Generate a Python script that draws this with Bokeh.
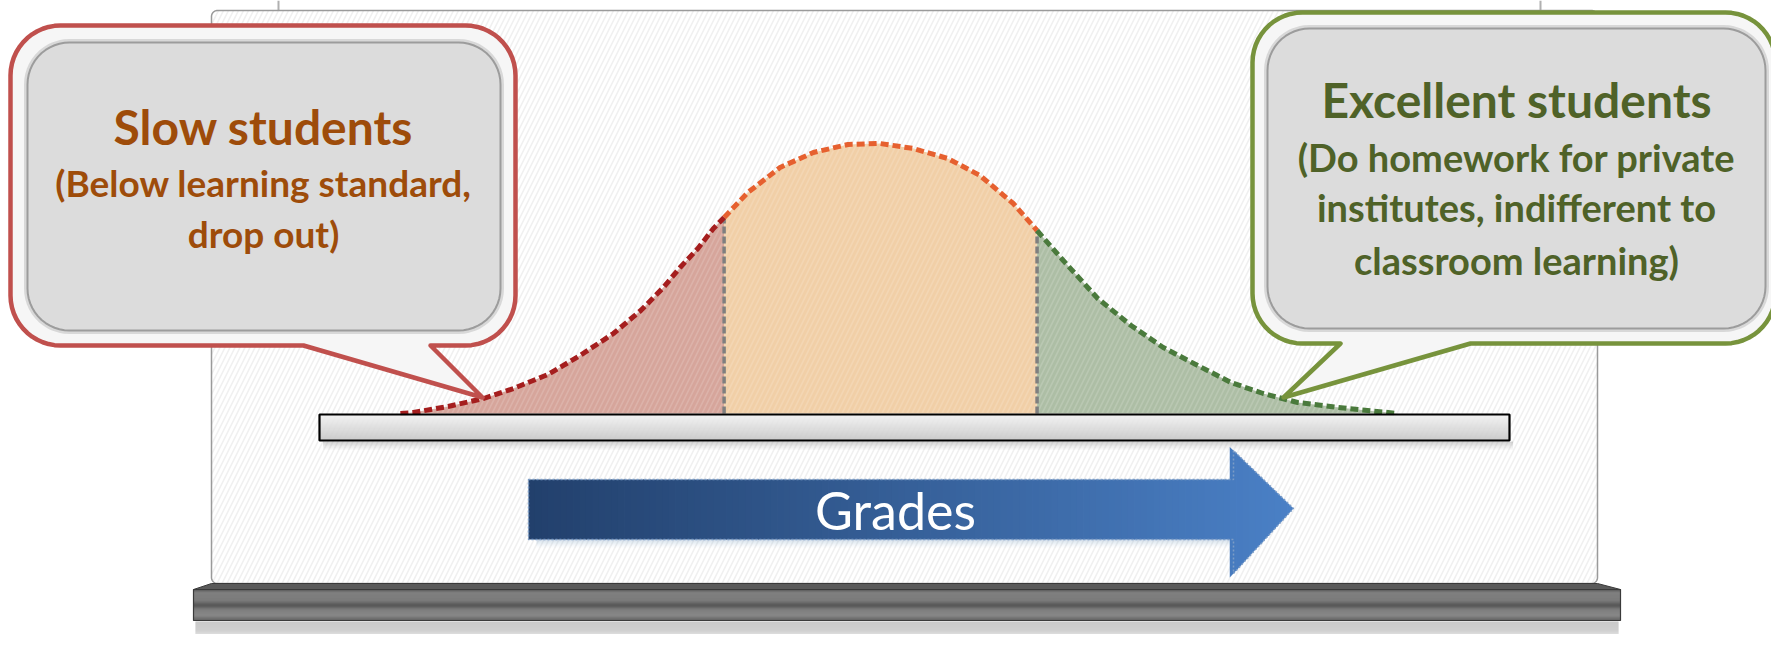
import numpy as np
from bokeh.plotting import figure
from bokeh.models import Range1d
from bokeh.core.properties import value
from bokeh.embed import file_html
from bokeh.resources import INLINE

# ---------------- data ----------------
grades = [6.8, 7.9, 10.8, 13.8, 16.3, 19.2, 21.9, 24.7, 27.0, 28.9, 30.3, 31.8,
          33.1, 34.0, 36.0, 38.7, 41.5, 44.4, 47.1, 49.9, 52.8, 55.5, 58.3, 60.3,
          62.5, 65.4, 68.2, 70.9, 73.8, 76.6, 79.3, 82.2, 86.4, 90.6]
students = [0.0, 0.1, 0.7, 1.5, 2.5, 3.9, 5.8, 8.0, 10.3, 12.6, 14.6, 16.5,
            18.5, 19.6, 22.1, 24.6, 26.1, 26.9, 27.0, 26.5, 25.5, 23.8, 21.0, 18.3,
            15.3, 11.5, 8.8, 6.6, 4.8, 3.1, 2.0, 1.1, 0.5, 0.0]
cutoffs = [34.0, 60.3]
groups = ["slow", "average", "excellent"]
slow_lines = ["Slow students", "(Below learning standard,", "drop out)"]
excellent_lines = ["Excellent students", "(Do homework for private",
                   "institutes, indifferent to", "classroom learning)"]
axis_label = "Grades"

# ---------------- styles ----------------
FILL = {"slow": "#d4a096", "average": "#f0cca2", "excellent": "#a9bba0"}
LINE = {"slow": "#a51e1e", "average": "#e6602f", "excellent": "#4a7a3c"}
FONT = value("Lato")
BASELINE_SHIFT = 0.4   # text is drawn a little low in the svg backend

W, H = 1771, 634
p = figure(width=W, height=H, x_range=Range1d(0, W), y_range=Range1d(H, 0),
           output_backend="svg", toolbar_location=None, min_border=0,
           x_axis_location=None, y_axis_location=None)
p.grid.visible = False
p.outline_line_color = None
p.background_fill_color = "white"
p.border_fill_color = "white"

# grade / student count scales for the distribution
PX0, PXS = 319.0, 11.9     # grade 0 at x=319, 11.9 px per grade point
BASE, PYS = 413.0, 10.0    # 0 students at y=413, 10 px per unit
p.extra_x_ranges = {"grade": Range1d((0 - PX0) / PXS, (W - PX0) / PXS)}
p.extra_y_ranges = {"count": Range1d((BASE - H) / PYS, (BASE - 0) / PYS)}


def hex2rgb(h):
    h = h.lstrip("#")
    return np.array([int(h[i:i + 2], 16) for i in (0, 2, 4)], dtype=float)


def mix(c1, c2, t):
    a, b = hex2rgb(c1), hex2rgb(c2)
    c = a + (b - a) * t
    return "#%02x%02x%02x" % tuple(int(round(v)) for v in c)


def stops_color(stops, y):
    for (y0, c0), (y1, c1) in zip(stops[:-1], stops[1:]):
        if y0 <= y <= y1:
            return mix(c0, c1, (y - y0) / max(y1 - y0, 1e-9))
    return stops[-1][1]


def vgrad(x0, x1, stops, step=1.0, alpha=1.0):
    y0, y1 = stops[0][0], stops[-1][0]
    ys = np.arange(y0, y1, step)
    bots = np.minimum(ys + step + 0.3, y1)
    cols = [stops_color(stops, y + step / 2) for y in ys]
    p.quad(left=x0, right=x1, top=ys, bottom=bots, fill_color=cols,
           line_color=None, fill_alpha=alpha)


def rrect(x0, y0, x1, y1, r, ptr=None, n=14):
    pts = []

    def arc(cx, cy, a0, a1):
        for t in np.linspace(a0, a1, n):
            pts.append((cx + r * np.cos(t), cy + r * np.sin(t)))
    arc(x0 + r, y0 + r, np.pi, 1.5 * np.pi)
    arc(x1 - r, y0 + r, 1.5 * np.pi, 2 * np.pi)
    arc(x1 - r, y1 - r, 0, 0.5 * np.pi)
    if ptr is not None:
        bxr, tx, ty, bxl = ptr
        pts += [(bxr, y1), (tx, ty), (bxl, y1)]
    arc(x0 + r, y1 - r, 0.5 * np.pi, np.pi)
    return [q[0] for q in pts], [q[1] for q in pts]


def label(xs, ys, texts, sizes, color, style="normal"):
    for x, y, t, s in zip(xs, ys, texts, sizes):
        p.text(x=[x], y=[y], text=[t], text_font=FONT, text_font_size=f"{s}px",
               text_font_style=style, text_color=color, text_align="center",
               text_baseline="alphabetic", y_offset=-BASELINE_SHIFT * s)


# ---------------- whiteboard ----------------
for hx in (278, 1540):
    p.segment(x0=hx, y0=0, x1=hx, y1=24, line_color="#b0b0b0", line_width=2)
bx, by = rrect(211, 10, 1597, 583, 6)
p.patch(bx, by, fill_color="white", hatch_pattern="/", hatch_color="#f0f0f0",
        hatch_scale=10, hatch_weight=1.6, line_color="#9a9a9a", line_width=1.5)

# ---------------- distribution ----------------
g = np.array(grades)
s = np.array(students)
masks = {
    "slow": g <= cutoffs[0],
    "average": (g >= cutoffs[0]) & (g <= cutoffs[1]),
    "excellent": g >= cutoffs[1],
}
for key in groups:
    m = masks[key]
    p.varea(x=g[m], y1=np.zeros(m.sum()), y2=s[m], fill_color=FILL[key],
            fill_alpha=0.95, hatch_pattern="/", hatch_color="white", hatch_alpha=0.15,
            hatch_scale=10, hatch_weight=1.6,
            x_range_name="grade", y_range_name="count")
for c in cutoffs:
    h = s[np.argmin(np.abs(g - c))]
    p.segment(x0=c, y0=0, x1=c, y1=h, line_color="#7f7f7f", line_width=3.5,
              line_dash="7 3", x_range_name="grade", y_range_name="count")
for key in groups:
    m = masks[key]
    p.line(g[m], s[m], line_color=LINE[key], line_width=5, line_dash="8 4",
           x_range_name="grade", y_range_name="count")

# ---------------- grade axis bar ----------------
for i, a in enumerate([0.35, 0.25, 0.15, 0.08]):
    p.quad(left=0.3, right=100.3, top=441 + i * 2, bottom=443 + i * 2,
           fill_color="#8a8a8a", fill_alpha=a, line_color=None, x_range_name="grade")
ys_bar = np.arange(414, 440, 1.0)
p.quad(left=0, right=100, top=ys_bar, bottom=ys_bar + 1.3,
       fill_color=[stops_color([(414, "#f2f2f2"), (440, "#c4c4c4")], y + 0.5) for y in ys_bar],
       line_color=None, x_range_name="grade")
p.quad(left=0, right=100, top=414, bottom=440, fill_color=None, line_color="black",
       line_width=2.2, x_range_name="grade")

# ---------------- arrow ----------------
AX0, AX1, ATIP = 528.0, 1233.0, 1293.0
AT, AB, HT, HB, TY = 479.0, 539.0, 450.0, 573.0, 508.0
for i, a in enumerate([0.35, 0.22, 0.12, 0.05]):
    p.quad(left=AX0 + 8, right=AX1, top=AB + i * 2, bottom=AB + 2 + i * 2,
           fill_color="#8fb0cf", fill_alpha=a, line_color=None)
c_left, c_right = "#22406c", "#4a80c6"
n_strips = 120
xs_edges = np.linspace(AX0, ATIP, n_strips + 1)


def head_top(x):
    return HT + (x - AX1) * (TY - HT) / (ATIP - AX1)


def head_bot(x):
    return HB + (x - AX1) * (TY - HB) / (ATIP - AX1)


for a, b in zip(xs_edges[:-1], xs_edges[1:]):
    col = mix(c_left, c_right, ((a + b) / 2 - AX0) / (ATIP - AX0))
    if b <= AX1:
        p.quad(left=a, right=b + 0.8, top=AT, bottom=AB, fill_color=col, line_color=None)
    else:
        bb = min(b + 0.8, ATIP)
        p.patch([a, bb, bb, a], [head_top(a), head_top(bb), head_bot(bb), head_bot(a)],
                fill_color=col, line_color=None)
p.patch([AX0, AX1, AX1, ATIP, AX1, AX1, AX0], [AT, AT, HT, TY, HB, AB, AB],
        fill_color=None, line_color="#7b9cc6", line_width=1.5, line_dash="2 2")
label([895], [530], [axis_label], [52], "white")

# ---------------- tray ----------------
p.patch([211, 1597, 1620, 193], [583, 583, 589, 589], fill_color="#5a5a5a",
        line_color="#3a3a3a", line_width=1)
vgrad(193, 1620, [(589, "#3a3a3a"), (592, "#6e6e6e"), (600, "#686868"), (605, "#3c3c3c"),
                  (609, "#6a6a6a"), (615, "#787878"), (620, "#4a4a4a")])
p.quad(left=193, right=1620, top=589, bottom=620, fill_color=None,
       line_color="#3a3a3a", line_width=1.2)
vgrad(195, 1618, [(621, "#c2c2c2"), (630, "#c8c8c8"), (634, "#dadada")])


# ---------------- callouts ----------------
def callout(outer, ptr, inner, border, lines, cx, baselines, sizes, color):
    ox, oy = rrect(*outer, 50, ptr=ptr)
    p.patch(ox, oy, fill_color="#f6f6f6", line_color=border, line_width=4.5,
            line_join="round")
    ix, iy = rrect(*inner, 42)
    p.patch(ix, iy, fill_color=None, line_color="#c4c4c4", line_width=7, line_alpha=0.6)
    p.patch(ix, iy, fill_color="#dcdcdc", line_color="#9c9c9c", line_width=2)
    label([cx] * len(lines), baselines, lines, sizes, color, style="bold")


callout((10, 25, 515, 345), (430, 482, 397, 303), (27, 42, 500, 330), "#c0504d",
        slow_lines, 263, [145, 197, 248], [48, 37, 37], "#9e4c0a")
callout((1252, 12, 1775, 343), (1470, 1283, 397, 1340), (1267, 28, 1765, 328), "#77933c",
        excellent_lines, 1516, [118, 172, 222, 275], [48, 38, 38, 38], "#4f6228")

open("out.html", "w").write(file_html(p, INLINE))
